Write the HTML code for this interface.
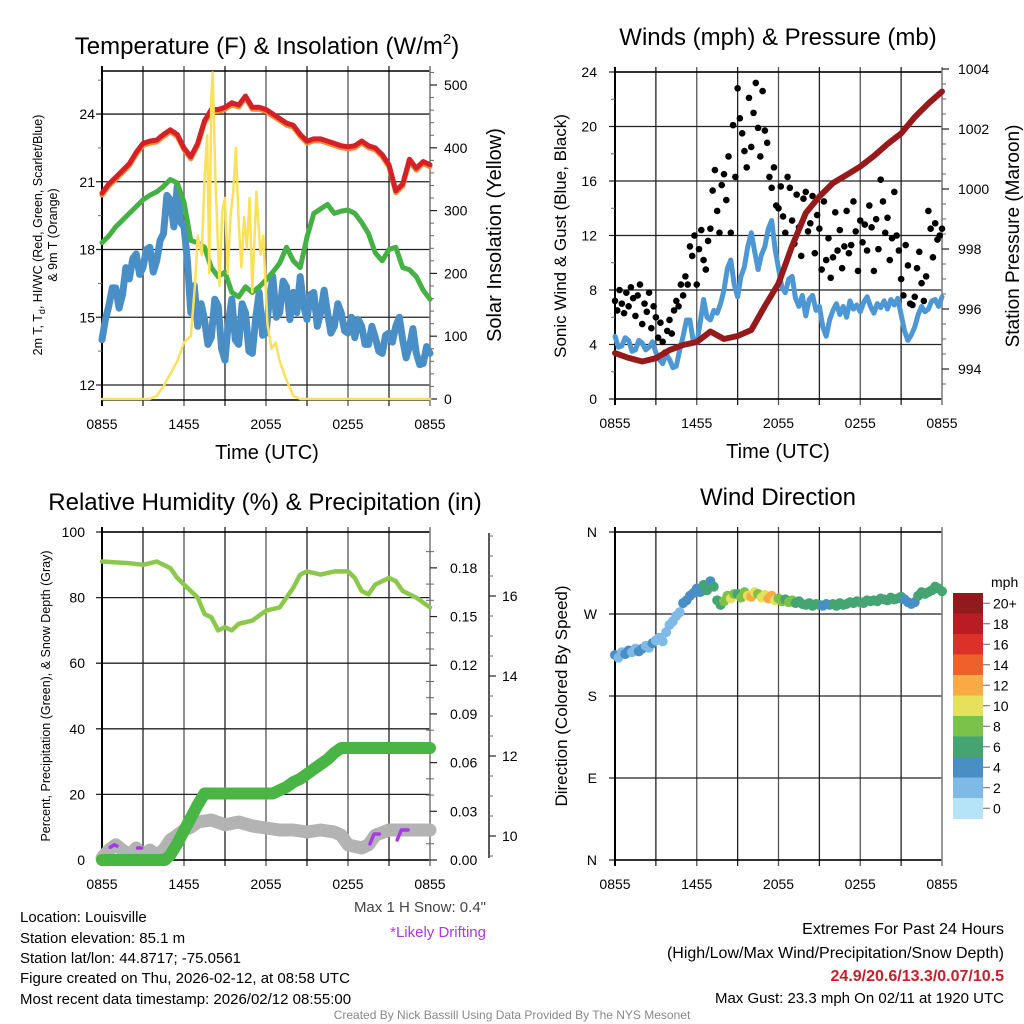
<!DOCTYPE html>
<html><head><meta charset="utf-8">
<style>
html,body{margin:0;padding:0;background:#fff;}
svg{display:block;font-family:"Liberation Sans",sans-serif;}
</style></head>
<body>
<svg id="chart" width="1024" height="1024" viewBox="0 0 1024 1024" xmlns="http://www.w3.org/2000/svg">
<rect width="1024" height="1024" fill="#fff"/>
<g id="g1"></g>
<g id="g2"></g>
<g id="g3"></g>
<g id="g4"></g>

<text x="267" y="54" font-size="24" text-anchor="middle">Temperature (F) &amp; Insolation (W/m<tspan font-size="15" dy="-10">2</tspan><tspan dy="10">)</tspan></text>
<text x="778" y="45" font-size="24" text-anchor="middle">Winds (mph) &amp; Pressure (mb)</text>
<text x="265" y="510" font-size="24" text-anchor="middle">Relative Humidity (%) &amp; Precipitation (in)</text>
<text x="778" y="505" font-size="24" text-anchor="middle">Wind Direction</text>

<text x="267" y="459" font-size="20" text-anchor="middle">Time (UTC)</text>
<text x="778" y="458" font-size="20" text-anchor="middle">Time (UTC)</text>

<text transform="translate(42,235) rotate(-90)" font-size="12.5" text-anchor="middle">2m T, T<tspan font-size="9" dy="3">d</tspan><tspan dy="-3">, HI/WC (Red, Green, Scarlet/Blue)</tspan></text>
<text transform="translate(57,235) rotate(-90)" font-size="12.5" text-anchor="middle">&amp; 9m T (Orange)</text>
<text transform="translate(501,235) rotate(-90)" font-size="20" text-anchor="middle">Solar Insolation (Yellow)</text>
<text transform="translate(566,236) rotate(-90)" font-size="17" text-anchor="middle">Sonic Wind &amp; Gust (Blue, Black)</text>
<text transform="translate(1019,236) rotate(-90)" font-size="19" text-anchor="middle">Station Pressure (Maroon)</text>
<text transform="translate(50,696) rotate(-90)" font-size="12.5" text-anchor="middle">Percent, Precipitation (Green), &amp; Snow Depth (Gray)</text>
<text transform="translate(567,696) rotate(-90)" font-size="17" text-anchor="middle">Direction (Colored By Speed)</text>

<text x="486" y="912" font-size="15" fill="#444" text-anchor="end">Max 1 H Snow: 0.4"</text>
<text x="486" y="937" font-size="15" fill="#a83ae6" text-anchor="end">*Likely Drifting</text>

<g font-size="15">
<text x="20" y="922">Location: Louisville</text>
<text x="20" y="943">Station elevation: 85.1 m</text>
<text x="20" y="963">Station lat/lon: 44.8717; -75.0561</text>
<text x="20" y="983">Figure created on Thu, 2026-02-12, at 08:58 UTC</text>
<text x="20" y="1004">Most recent data timestamp: 2026/02/12 08:55:00</text>
</g>
<g text-anchor="end">
<text x="1004" y="934" font-size="16">Extremes For Past 24 Hours</text>
<text x="1004" y="958" font-size="16">(High/Low/Max Wind/Precipitation/Snow Depth)</text>
<text x="1004" y="981" font-size="16" font-weight="bold" fill="#c8202a">24.9/20.6/13.3/0.07/10.5</text>
<text x="1004" y="1003" font-size="15">Max Gust: 23.3 mph On 02/11 at 1920 UTC</text>
</g>
<text x="512" y="1019" font-size="12" fill="#888" text-anchor="middle">Created By Nick Bassill Using Data Provided By The NYS Mesonet</text>
</svg>
<script>
// ---------- DATA ----------
const xTickLabels = ["0855","1455","2055","0255","0855"];
// Panel 1 (half-hourly, 49 pts)
const tempRed = [20.5,20.9,21.2,21.5,21.8,22.3,22.7,22.8,22.85,23.1,23.3,23.1,22.5,22.1,22.7,23.7,24.2,24.2,24.3,24.5,24.4,24.8,24.3,24.3,24.2,24.0,23.8,23.6,23.5,23.1,22.8,22.9,22.9,22.8,22.7,22.6,22.55,22.6,22.8,22.6,22.5,22.2,21.75,20.6,20.9,22.0,21.6,21.9,21.75];
const dewGreen = [18.3,18.6,19.0,19.3,19.6,19.9,20.2,20.4,20.55,20.8,21.1,20.95,20.1,18.4,18.3,18.1,17.2,16.8,17.0,16.1,15.9,16.35,16.1,16.35,16.65,17.0,17.4,18.1,17.5,17.2,18.55,19.6,19.8,20.0,19.6,19.7,19.75,19.6,19.2,18.7,17.85,17.5,18.0,18.1,17.2,17.1,16.8,16.2,15.8];
// quarter-hourly, 97 pts
const windChillBlue = [14.0,14.9,15.5,16.3, 16.3,15.4,16.0,17.2, 16.7,17.6,17.8,16.9, 17.2,18.0,18.1,17.0, 17.5,18.4,18.7,20.4, 20.2,19.0,20.8,19.2, 19.0,17.5,15.2,16.4, 14.6,15.6,14.9,13.8, 14.1,15.8,15.5,13.6, 13.1,14.8,15.8,14.0, 13.8,15.6,15.2,13.5, 13.4,15.0,16.1,14.2, 14.3,15.8,16.8,15.0, 15.2,16.6,16.35,14.9, 16.1,15.2,16.8,15.5, 14.9,16.0,16.1,14.6, 15.2,16.2,15.2,14.3, 14.6,15.6,15.2,14.4, 14.3,15.0,14.1,14.9, 14.6,13.8,13.8,14.6, 14.1,13.5,13.4,14.2, 14.3,13.9,14.6,15.0, 14.0,13.2,13.7,14.5, 13.4,12.9,12.95,13.7, 13.4];
const solarHours = [0,3.5,4,4.5,5,5.5,6,6.5,6.8,7,7.3,7.5,7.7,7.85,8,8.1,8.3,8.6,8.8,9,9.2,9.4,9.6,9.8,10,10.2,10.4,10.6,10.8,11,11.3,11.6,11.8,12.1,12.4,12.7,13,13.5,14,14.5,24];
const solarValues = [0,0,5,20,40,60,90,100,180,260,230,350,420,200,480,520,350,180,300,320,200,290,330,400,280,210,290,240,320,170,330,230,260,120,80,90,60,30,5,0,0];
// Panel 2
const windSpeed = [4.6,3.8,3.9,4.5, 4.3,3.5,3.6,4.3, 4.1,3.6,3.8,4.2, 3.4,2.9,2.6,3.3, 2.9,2.3,2.4,3.6, 4.6,5.8,5.8,4.2, 4.1,5.6,7.3,6.0, 5.8,6.5,6.3,7.0, 8.0,9.6,10.2,8.4, 7.5,9.0,9.7,11.2, 12.2,10.8,9.5,10.6, 11.2,12.5,13.1,11.0, 9.6,8.2,7.8,8.8, 9.0,7.4,6.8,7.6, 6.1,7.3,7.6,6.5, 6.8,5.3,4.6,5.8, 6.5,7.0,6.2,6.8, 6.0,7.2,6.6,6.9, 6.4,7.1,7.5,6.8, 6.3,7.0,6.7,7.2, 6.6,7.3,6.9,7.4, 6.2,5.0,4.3,4.7, 5.3,6.2,6.8,6.4, 6.6,7.2,7.3,6.8, 7.5];
const gustSpeed = [7.2,6.5,8.0,7.0,6.3,7.8, 6.8,8.2,7.4,6.1,7.6,8.4, 5.5,7.0,6.4,7.8,5.2,6.8, 6.0,4.5,5.6,4.2,3.4,5.0, 5.8,4.8,6.5,7.2,6.8,8.4, 7.6,9.0,8.4,11.2,10.5,12.0, 8.4,11.0,12.4,10.2,9.5,11.6, 12.5,15.3,16.8,13.8,12.2,15.7, 16.5,14.6,17.8,12.2,20.1,16.3, 22.8,20.6,19.5,18.2,17.0,22.1, 18.5,21.0,23.2,19.9,17.8,22.6, 19.7,18.8,16.3,15.5,17.0,14.2, 14.0,15.6,13.4,12.2,16.3,15.5, 13.1,11.4,15.0,12.6,10.5,14.7, 15.2,12.3,12.9,14.9,10.7,13.5, 12.5,9.5,14.5,10.2,11.8,8.9, 10.4,13.7,10.9,12.4,9.6,11.2, 13.8,10.7,11.3,14.5,12.3,9.4, 13.1,11.5,12.8,10.9,14.2,12.6, 9.4,13.2,11.0,16.1,14.5,12.2, 13.3,10.2,11.8,15.2,12.0,10.9, 8.8,7.6,11.3,9.8,7.0,6.9, 7.5,9.6,10.8,8.5,7.2,9.0, 13.8,12.5,10.4,12.9,11.7,12.0, 12.5];
const pressure = [994.53,994.37,994.25,994.36,994.63,994.8,994.9,995.25,995.0,995.1,995.3,996.1,996.85,998.1,999.2,999.75,1000.2,1000.47,1000.75,1001.1,1001.5,1001.85,1002.4,1002.85,1003.25];
// Panel 3
const rhHours = [0,2,3,4,5,5.5,6,7,7.5,8,8.5,9,9.5,10,11,12,13,13.5,14,14.5,15,16,17,18,18.5,19,19.5,20,21,21.5,22,23,24];
const rhValues = [91,90.5,90,91,89,86,84,80,75,74,70,71,70,72,73,76,77,80,83,87,88,87,88,88,86,82,81,84,86,85,82,80,77];
const precipHours = [0,4.6,5,5.5,6,6.5,7,7.5,12.5,13,13.5,14,14.5,15,15.5,16,16.5,17,17.5,18,24];
const precipValues = [0,0,0.003,0.01,0.018,0.026,0.034,0.041,0.041,0.043,0.045,0.048,0.05,0.053,0.056,0.059,0.062,0.066,0.069,0.069,0.069];
const snowHours = [0,0.5,1,1.5,2,2.5,3,3.5,4,4.5,5,5.5,6,6.5,7,8,9,10,11,12,13,14,15,16,17,17.5,18,19,19.5,20,21,22,23,24];
const snowDepth = [9.45,9.65,9.78,9.65,9.52,9.7,9.52,9.65,9.52,9.65,9.9,10.02,10.15,10.22,10.35,10.4,10.28,10.35,10.25,10.2,10.15,10.15,10.1,10.15,10.1,10.02,9.78,9.7,9.78,10.02,10.15,10.15,10.15,10.15];
const driftHours = [[0.6,0.9,1.1],[2.6,2.9],[19.6,19.9,20.3],[21.6,21.9,22.4]];
const driftDepth = [[9.72,9.78,9.75],[9.7,9.7],[9.8,10.05,10.05],[9.9,10.15,10.15]];
// Panel 4 (quarter-hourly)
const windDir = [225,222,228,226, 230,228,232,229, 232,235,233,238, 241,244,240,250, 258,262,268,272, 282,285,290,293, 298,294,302,296, 306,300,285,280, 284,290,287,292, 292,288,294,290, 289,294,292,288, 291,287,290,285, 287,284,286,283, 285,282,284,281, 280,282,279,281, 280,279,281,280, 281,279,282,280, 281,283,282,284, 283,282,285,284, 285,284,287,286, 285,288,286,287, 289,286,283,281, 283,290,294,292, 294,296,300,298, 295];
const speedBins = ["0","2","4","6","8","10","12","14","16","18","20+"];
const binColors = ["#b5e3f8","#7fbae6","#4a8ec6","#45a572","#7bc24b","#e6e05a","#f8aa44","#f0602b","#dc3129","#ba1c24","#921a1d"];

// ---------- HELPERS ----------
const NS="http://www.w3.org/2000/svg";
function mk(parent,tag,attrs){const e=document.createElementNS(NS,tag);for(const k in attrs)e.setAttribute(k,attrs[k]);parent.appendChild(e);return e;}
function hoursOf(arr){return arr.map((_,i)=>i*24/(arr.length-1));}
function poly(parent,hrs,vals,xs,ys,color,w,name){
  const pts=hrs.map((h,i)=>xs(h).toFixed(1)+","+ys(vals[i]).toFixed(1)).join(" ");
  const e=mk(parent,"polyline",{points:pts,fill:"none",stroke:color,"stroke-width":w,"stroke-linejoin":"round","stroke-linecap":"round"});
  
  
  return e;
}
function frame(g,x0,x1,y0,y1,yticks,yfn,ylabels,labelX,name){
  for(let i=0;i<=8;i++){const x=x0+(x1-x0)*i/8;
    const l=mk(g,"line",{x1:x,x2:x,y1:y0-5,y2:y1+6,stroke:i%2?"#222":"#555","stroke-width":1.3});
    
    
  }
  yticks.forEach((v,i)=>{const y=yfn(v);
    const l=mk(g,"line",{x1:x0-6,x2:x1,y1:y,y2:y,stroke:"#222","stroke-width":1.3});
    
    
    const t=mk(g,"text",{x:labelX,y:y+5,"font-size":14,"text-anchor":"end"});t.textContent=ylabels[i];
    
    
  });
  mk(g,"line",{x1:x0,x2:x1,y1:y0,y2:y0,stroke:"#000","stroke-width":1.5});
  mk(g,"line",{x1:x0,x2:x1,y1:y1,y2:y1,stroke:"#000","stroke-width":1.5});
  mk(g,"line",{x1:x0,x2:x0,y1:y0-5,y2:y1+6,stroke:"#000","stroke-width":2});
  mk(g,"line",{x1:x1,x2:x1,y1:y0-5,y2:y1+6,stroke:"#888","stroke-width":1.5});
  xTickLabels.forEach((s,i)=>{const t=mk(g,"text",{x:x0+(x1-x0)*i/4,y:y1+29,"font-size":14,"text-anchor":"middle"});t.textContent=s;
    
    
  });
}
function rightAxis(g,x,vals,yfn,labels,lx,minor,name){
  vals.forEach((v,i)=>{const y=yfn(v);mk(g,"line",{x1:x,x2:x+7,y1:y,y2:y,stroke:"#222","stroke-width":1.2});
    const t=mk(g,"text",{x:lx,y:y+5,"font-size":14});t.textContent=labels[i];
    
    
  });
  minor.forEach(v=>{const y=yfn(v);mk(g,"line",{x1:x,x2:x+4,y1:y,y2:y,stroke:"#666","stroke-width":1});});
}

// ---------- PANEL 1 ----------
(function(){
  const g=document.getElementById("g1");
  const x0=102,x1=430,y0=71,y1=400;
  const xs=h=>x0+(x1-x0)*h/24;
  const yT=v=>385-(v-12)*22.58;
  const yS=v=>399-v*0.628;
  frame(g,x0,x1,y0,y1,[12,15,18,21,24],yT,["12","15","18","21","24"],95,"temp");
  [13.5,16.5,19.5,22.5,25.5].forEach(v=>mk(g,"line",{x1:x0-4,x2:x0,y1:yT(v),y2:yT(v),stroke:"#666"}));
  const sv=[0,100,200,300,400,500],sm=[];for(let v=20;v<=520;v+=20)if(v%100)sm.push(v);
  rightAxis(g,x1,sv,yS,sv.map(String),444,sm,"solar");
  poly(g,hoursOf(windChillBlue),windChillBlue,xs,yT,"#4a8ec6",7,"windchill-line");
  poly(g,hoursOf(dewGreen),dewGreen,xs,yT,"#45b043",5,"dewpoint-line");
  const o=poly(g,hoursOf(tempRed),tempRed,xs,yT,"#f58a32",5,"temp-9m-line");o.setAttribute("transform","translate(0,2)");
  poly(g,hoursOf(tempRed),tempRed,xs,yT,"#d42127",5,"temp-2m-line");
  poly(g,solarHours,solarValues,xs,yS,"#fbe15a",2.5,"solar-line");
})();

// ---------- PANEL 2 ----------
(function(){
  const g=document.getElementById("g2");
  const x0=615,x1=942,y0=72,y1=399;
  const xs=h=>x0+(x1-x0)*h/24;
  const yW=v=>399-v*13.625;
  const yP=p=>369-(p-994)*30;
  frame(g,x0,x1,y0,y1,[0,4,8,12,16,20,24],yW,["0","4","8","12","16","20","24"],597,"wind");
  [2,6,10,14,18,22].forEach(v=>mk(g,"line",{x1:x0-4,x2:x0,y1:yW(v),y2:yW(v),stroke:"#666"}));
  const pv=[994,996,998,1000,1002,1004],pm=[];for(let p=993.5;p<1004;p+=0.5)if(p%2)pm.push(p);
  rightAxis(g,x1,pv,yP,pv.map(String),958,pm,"pressure");
  poly(g,hoursOf(windSpeed),windSpeed,xs,yW,"#4d98d4",5,"wind-speed-line");
  const gh=hoursOf(gustSpeed);
  gustSpeed.forEach((v,i)=>{const c=mk(g,"circle",{cx:xs(gh[i]),cy:yW(v),r:3.3,fill:"#000"});
    
    
  });
  poly(g,hoursOf(pressure),pressure,xs,yP,"#961a1c",6,"pressure-line");
})();

// ---------- PANEL 3 ----------
(function(){
  const g=document.getElementById("g3");
  const x0=102,x1=430,y0=532,y1=860;
  const xs=h=>x0+(x1-x0)*h/24;
  const yR=v=>860-v*3.28;
  const yPr=v=>860-v*1623;
  const ySn=s=>836-(s-10)*40;
  frame(g,x0,x1,y0,y1,[0,20,40,60,80,100],yR,["0","20","40","60","80","100"],85,"rh");
  const pv=[0,0.03,0.06,0.09,0.12,0.15,0.18],pm=[];for(let i=1;i<=19;i++)if(i%3)pm.push(i*0.01);
  rightAxis(g,x1,pv,yPr,pv.map(v=>v.toFixed(2)),450,pm,"precip");
  pm.forEach(v=>mk(g,"line",{x1:x1-4,x2:x1,y1:yPr(v),y2:yPr(v),stroke:"#666"}));
  mk(g,"line",{x1:489,x2:489,y1:533,y2:858,stroke:"#222","stroke-width":1.5});
  const sv=[10,12,14,16],smn=[9.5,10.5,11,11.5,12.5,13,13.5,14.5,15,15.5,16.5,17,17.5];
  rightAxis(g,489,sv,ySn,sv.map(String),502,smn,"snow");
  poly(g,snowHours,snowDepth,xs,ySn,"#b3b3b3",13,"snow-depth-line");
  driftHours.forEach((hs,k)=>poly(g,hs,driftDepth[k],xs,ySn,"#a83ae6",3.5,"drift-segment"));
  poly(g,precipHours,precipValues,xs,yPr,"#49b544",12,"precip-line");
  poly(g,rhHours,rhValues,xs,yR,"#8cc84b",4.5,"rh-line");
})();

// ---------- PANEL 4 ----------
(function(){
  const g=document.getElementById("g4");
  const x0=615,x1=942,y0=532,y1=860;
  const xs=h=>x0+(x1-x0)*h/24;
  const yD=d=>860-d*0.9111;
  frame(g,x0,x1,y0,y1,[0,90,180,270,360],yD,["N","E","S","W","N"],597,"dir");
  const hs=hoursOf(windDir);
  windDir.forEach((d,i)=>{const b=Math.min(10,Math.floor(windSpeed[i]/2));
    const c=mk(g,"circle",{cx:xs(hs[i]),cy:yD(d),r:5,fill:binColors[b]});
    
    
  });
  const lg=mk(g,"g",{});
  
  
  const t=mk(lg,"text",{x:991,y:587,"font-size":14});t.textContent="mph";
  const bh=20.5,top=593;
  for(let i=0;i<11;i++){const k=10-i;const y=top+i*bh;
    const r=mk(lg,"rect",{x:953,y:y,width:30,height:bh+0.5,fill:binColors[k]});
    
    
    mk(lg,"line",{x1:983,x2:990,y1:y+bh/2,y2:y+bh/2,stroke:"#666"});
    const tx=mk(lg,"text",{x:993,y:y+bh/2+5,"font-size":14});tx.textContent=speedBins[k];
    
    
  }
})();
</script>
</body></html>
